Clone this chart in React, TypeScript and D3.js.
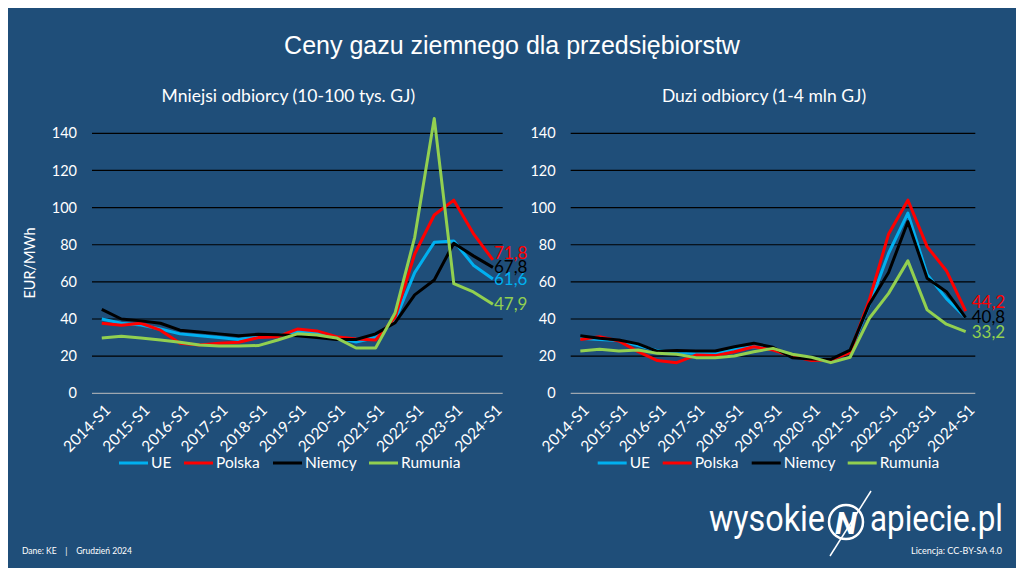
import * as d3 from "d3";

const W = 1024;
const H = 576;
const BG = "#1f4e79";

const periods = [
  "2014-S1", "2014-S2", "2015-S1", "2015-S2", "2016-S1", "2016-S2", "2017-S1",
  "2017-S2", "2018-S1", "2018-S2", "2019-S1", "2019-S2", "2020-S1", "2020-S2",
  "2021-S1", "2021-S2", "2022-S1", "2022-S2", "2023-S1", "2023-S2", "2024-S1",
];
const yTicks = [0, 20, 40, 60, 80, 100, 120, 140];

const seriesNames = ["UE", "Polska", "Niemcy", "Rumunia"];
const seriesColors = ["#00b0f0", "#ff0000", "#000000", "#92d050"];

// mniejsi odbiorcy (10-100 tys. GJ)
const smallUE = [40, 37.7, 36.8, 34.6, 32, 31, 30, 29, 30.5, 31, 33.4, 32.7, 30, 27.6, 30, 39.5, 65, 81.3, 82, 69, 61.6];
const smallPL = [37.7, 36.6, 37.7, 34, 27, 26, 27, 27.5, 30, 30.5, 34.6, 33.6, 30.5, 29.3, 28.7, 41, 75, 96, 104, 86, 71.8];
const smallDE = [45.2, 40, 39, 37.7, 34, 33, 32, 31, 31.8, 31.5, 31, 30, 29, 29, 32, 38, 53, 61, 80.8, 74, 67.8];
const smallRO = [29.8, 30.7, 29.8, 28.7, 27.5, 26, 25.5, 25.5, 25.7, 28.7, 32, 31.4, 29.8, 24.4, 24.4, 43.4, 84, 148, 59, 54.6, 47.9];

// duzi odbiorcy (1-4 mln GJ)
const largeUE = [29.6, 29, 28.4, 25.7, 23, 21.9, 21.5, 21.5, 23.7, 25.1, 23.7, 20.1, 18.8, 18, 22.4, 47.6, 75.4, 97, 64, 51, 40.8];
const largePL = [29, 30.5, 28.2, 22.4, 17.6, 16.5, 20.6, 20.3, 22.4, 25.1, 23.3, 20.1, 17.6, 18, 21.9, 50.3, 85.8, 104, 79, 66, 44.2];
const largeDE = [31, 29.6, 28.7, 26.6, 22.6, 23, 22.8, 22.8, 25.1, 27, 24.8, 19.2, 18.5, 18.3, 23.3, 48, 65, 92.4, 62, 54.7, 40.8];
const largeRO = [22.8, 23.7, 22.8, 23.3, 21.5, 21, 19.2, 19.2, 20.1, 22.4, 24.2, 21, 19.4, 16.5, 19.4, 40.4, 53.8, 71.3, 44.9, 37.2, 33.2];

const fmt = (v: number) => d3.format(".1f")(v).replace(".", ",");
const font = "Lato, 'Open Sans', sans-serif";

const legendOffsets = [27, 92, 181, 277];

type PanelProps = {
  x0: number;
  x1: number;
  title: string;
  data: number[][];
  showEnd: boolean[];
  endNudge: number[];
  endGap: number;
};

function Panel({ x0, x1, title, data, showEnd, endNudge, endGap }: PanelProps) {
  const top = 133.3;
  const bottom = 393.3;
  const x = d3.scaleBand<string>().domain(periods).range([x0, x1]);
  const px = (p: string) => (x(p) ?? 0) + x.bandwidth() / 2;
  const y = d3.scaleLinear().domain([0, 140]).range([bottom, top]);
  const line = d3
    .line<number>()
    .x((_, i) => px(periods[i]))
    .y((v) => y(v));
  const last = periods[periods.length - 1];

  return (
    <g>
      <text x={(x0 + x1) / 2 - 9} y={102} textAnchor="middle" fill="#fff" fontSize={17.5} fontFamily={font}>
        {title}
      </text>
      {yTicks.map((t) => (
        <g key={t}>
          <line x1={x0} x2={x1} y1={y(t)} y2={y(t)} stroke={t === 0 ? "#bfbfbf" : "#000"} strokeWidth={t === 0 ? 1 : 1.2} />
          <text x={x0 - 15} y={y(t)} dy="0.35em" textAnchor="end" fill="#fff" fontSize={14.5} fontFamily={font}>
            {t}
          </text>
        </g>
      ))}
      {periods.map((p, i) =>
        i % 2 === 0 ? (
          <text
            key={p}
            transform={`translate(${px(p) + 6},${bottom + 14}) rotate(-45)`}
            textAnchor="end"
            dy="0.35em"
            fill="#fff"
            fontSize={15.5}
            fontFamily={font}
          >
            {p}
          </text>
        ) : null
      )}
      {data.map((s, k) => (
        <path key={k} d={line(s) ?? ""} fill="none" stroke={seriesColors[k]} strokeWidth={3} strokeLinejoin="round" />
      ))}
      {data.map((s, k) =>
        showEnd[k] ? (
          <text
            key={k}
            x={px(last) + endGap}
            y={y(s[s.length - 1]) + endNudge[k]}
            dy="0.35em"
            fill={seriesColors[k]}
            fontSize={17}
            fontFamily={font}
          >
            {fmt(s[s.length - 1])}
          </text>
        ) : null
      )}
      {seriesNames.map((n, k) => (
        <g key={n} transform={`translate(${x0 + legendOffsets[k]},463)`}>
          <line x1={0} x2={29} y1={0} y2={0} stroke={seriesColors[k]} strokeWidth={3} />
          <text x={32} dy="0.35em" fill="#fff" fontSize={15.5} fontFamily={font}>
            {n}
          </text>
        </g>
      ))}
    </g>
  );
}

export default function App() {
  return (
    <svg width={W} height={H} style={{ display: "block", margin: -8 }}>
      <rect width={W} height={H} fill={BG} />
      <text x={512} y={54} textAnchor="middle" fill="#fff" fontSize={25} fontFamily="'Liberation Sans', Arial, sans-serif">
        Ceny gazu ziemnego dla przedsiębiorstw
      </text>
      <text x={-263} y={35} transform="rotate(-90)" textAnchor="middle" fill="#fff" fontSize={14.5} fontFamily={font}>
        EUR/MWh
      </text>
      <Panel
        x0={92}
        x1={502.7}
        title="Mniejsi odbiorcy (10-100 tys. GJ)"
        data={[smallUE, smallPL, smallDE, smallRO]}
        showEnd={[true, true, true, true]}
        endNudge={[0, -7, 0, 0]}
        endGap={1}
      />
      <Panel
        x0={570.7}
        x1={975.3}
        title="Duzi odbiorcy (1-4 mln GJ)"
        data={[largeUE, largePL, largeDE, largeRO]}
        showEnd={[false, true, true, true]}
        endNudge={[0, -9, 0, 0]}
        endGap={6}
      />
      <text x={22} y={554} fill="#fff" fontSize={8.5} fontFamily={font}>
        Dane: KE{"\u00a0\u00a0\u00a0\u00a0|\u00a0\u00a0\u00a0\u00a0"}Grudzień 2024
      </text>
      <text x={1002} y={554} textAnchor="end" fill="#fff" fontSize={9} fontFamily={font}>
        Licencja: CC-BY-SA 4.0
      </text>
      <g fill="#fff" fontFamily="Roboto, sans-serif" fontSize={36}>
        <text x={709} y={531} textLength={116} lengthAdjust="spacingAndGlyphs">
          wysokie
        </text>
        <text x={870} y={531} textLength={133} lengthAdjust="spacingAndGlyphs">
          apiecie.pl
        </text>
        <circle cx={846} cy={522} r={17} fill="none" stroke="#fff" strokeWidth={2.5} />
        <text x={846} y={534} textAnchor="middle" fontSize={32} fontStyle="italic" fontWeight={700}>
          N
        </text>
        <line x1={871} y1={491} x2={830} y2={556} stroke="#fff" strokeWidth={1.5} />
      </g>
    </svg>
  );
}
